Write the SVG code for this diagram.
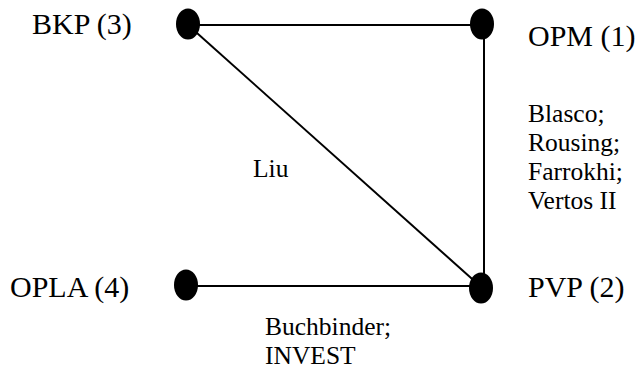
<svg xmlns="http://www.w3.org/2000/svg" width="644" height="382" viewBox="0 0 644 382" font-family="Liberation Serif, DejaVu Serif, serif">
<style>
.big{font-size:30px;fill:#000}
.small{font-size:25.5px;fill:#000}
.edge{stroke:#000;stroke-width:2;fill:none}
.dot{fill:#000}
</style>
<rect width="644" height="382" fill="#fff"/>
<g id="connectors">
<line class="edge" x1="188" y1="25" x2="482" y2="25"/>
<line class="edge" x1="484" y1="25" x2="484" y2="286"/>
<line class="edge" x1="188" y1="25" x2="480" y2="286"/>
<line class="edge" x1="186" y1="286" x2="480" y2="286"/>
<text class="small" x="253" y="177">Liu</text>
<text class="small" x="528" y="122">Blasco;</text>
<text class="small" x="528" y="151">Rousing;</text>
<text class="small" x="528" y="180">Farrokhi;</text>
<text class="small" x="528" y="209">Vertos II</text>
<text class="small" x="265" y="335">Buchbinder;</text>
<text class="small" x="265" y="364">INVEST</text>
</g>
<g id="BKP"><ellipse class="dot" cx="188" cy="24" rx="12" ry="15.5"/><text class="big" x="32" y="34">BKP (3)</text></g>
<g id="OPM"><ellipse class="dot" cx="482" cy="24" rx="12" ry="15.5"/><text class="big" x="528" y="46">OPM (1)</text></g>
<g id="OPLA"><ellipse class="dot" cx="186" cy="285" rx="12" ry="15.5"/><text class="big" x="10" y="297">OPLA (4)</text></g>
<g id="PVP"><ellipse class="dot" cx="481" cy="288" rx="12" ry="15.5"/><text class="big" x="528" y="297">PVP (2)</text></g>
</svg>
